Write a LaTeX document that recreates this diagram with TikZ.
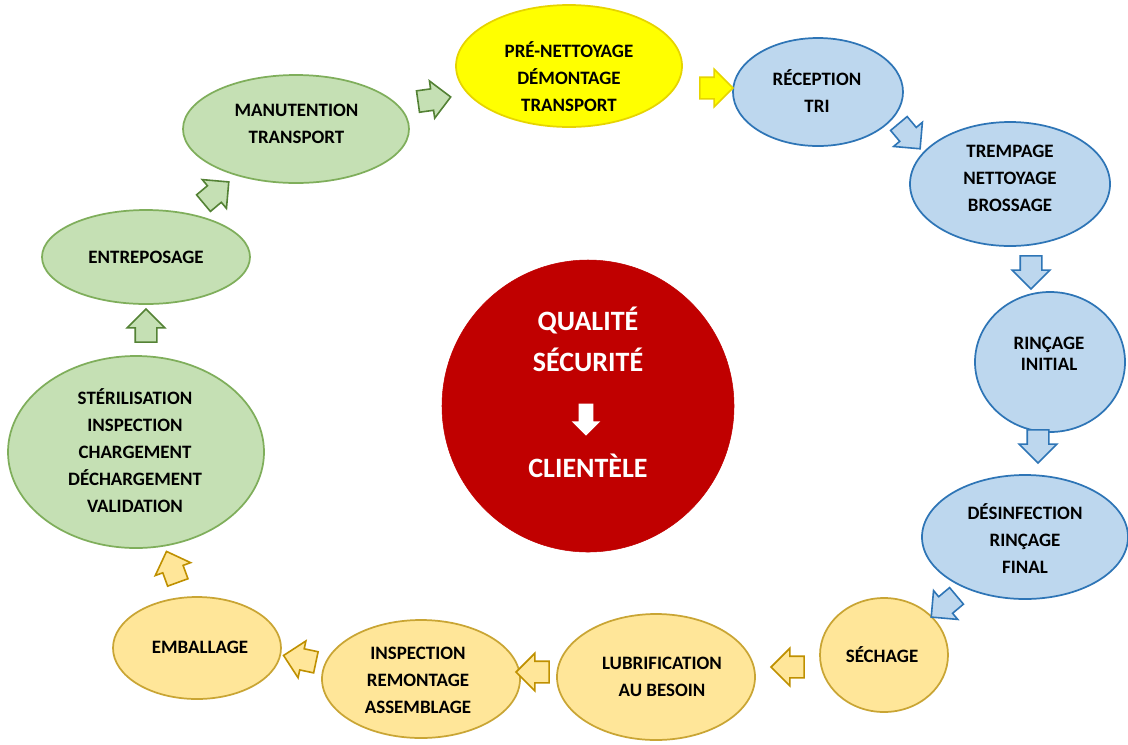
\documentclass[tikz,border=0pt]{standalone}
\usepackage{fontspec}
\setmainfont{Carlito}
\usetikzlibrary{shapes.geometric,shapes.arrows}
\definecolor{gfill}{HTML}{C5E0B4}
\definecolor{gline}{HTML}{7FAE5B}
\definecolor{garrow}{HTML}{548235}
\definecolor{bfill}{HTML}{BDD7EE}
\definecolor{bline}{HTML}{2E75B6}
\definecolor{yfill}{HTML}{FFFF00}
\definecolor{yline}{HTML}{E6D400}
\definecolor{ofill}{HTML}{FFE699}
\definecolor{oline}{HTML}{C9A534}
\definecolor{oarrow}{HTML}{BF9000}
\definecolor{qred}{HTML}{C00000}
\tikzset{
  stage/.style={ellipse, line width=1.3pt, inner sep=0pt},
  gstage/.style={stage, fill=gfill, draw=gline},
  bstage/.style={stage, fill=bfill, draw=bline},
  ystage/.style={stage, fill=yfill, draw=yline},
  ostage/.style={stage, fill=ofill, draw=oline},
  lbl/.style={align=center, inner sep=0pt, text=black,
    font=\bfseries\fontsize{14.2}{20.25}\selectfont},
  flow/.style={single arrow, minimum height=24.75pt,
    single arrow head extend=6pt, inner sep=0pt, line width=1.2pt},
  garr/.style={flow, fill=gfill, draw=garrow},
  barr/.style={flow, fill=bfill, draw=bline},
  yarr/.style={flow, fill=yfill, draw=yline},
  oarr/.style={flow, fill=ofill, draw=oarrow},
  qtext/.style={font=\bfseries\fontsize{21}{25}\selectfont, text=white},
}
\newcommand\shaft{\rule{0pt}{15pt}}
\begin{document}
\begin{tikzpicture}[x=0.75pt,y=-0.75pt]
\useasboundingbox (0,0) rectangle (1128,744);
\fill[white] (0,0) rectangle (1128,744);
% stages
\node[ystage, minimum width=169.5pt, minimum height=91.5pt] (pre) at (569,66) {};
\node[bstage, minimum width=127.5pt, minimum height=81pt] (rec) at (818,92) {};
\node[bstage, minimum width=150pt, minimum height=93pt] (tre) at (1010,184) {};
\node[bstage, minimum width=112.5pt, minimum height=105pt] (rin) at (1050,362) {};
\node[bstage, minimum width=154.5pt, minimum height=93pt] (des) at (1025,537) {};
\node[ostage, minimum width=96pt, minimum height=85.5pt] (sec) at (884,655) {};
\node[ostage, minimum width=148.5pt, minimum height=94.5pt] (lub) at (656,677) {};
\node[ostage, minimum width=148.5pt, minimum height=88.5pt] (ins) at (421,679) {};
\node[ostage, minimum width=126pt, minimum height=76.5pt] (emb) at (197,648) {};
\node[gstage, minimum width=192pt, minimum height=144pt] (ste) at (136,452) {};
\node[gstage, minimum width=156pt, minimum height=70.5pt] (ent) at (146,257) {};
\node[gstage, minimum width=169.5pt, minimum height=81pt] (man) at (296,129) {};
% stage labels
\node[lbl] (pret) at (569,76.5) {PRÉ-NETTOYAGE\\DÉMONTAGE\\TRANSPORT};
\node[lbl] (rect) at (817,91) {RÉCEPTION\\TRI};
\node[lbl] (tret) at (1010,178.5) {TREMPAGE\\NETTOYAGE\\BROSSAGE};
\node[lbl, font=\bfseries\fontsize{14.2}{16}\selectfont] (rint) at (1049,354) {RINÇAGE\\INITIAL};
\node[lbl] (dest) at (1025,538.5) {DÉSINFECTION\\RINÇAGE\\FINAL};
\node[lbl] (sect) at (882,655) {SÉCHAGE};
\node[lbl] (lubt) at (662,677) {LUBRIFICATION\\AU BESOIN};
\node[lbl] (inst) at (418,680) {INSPECTION\\REMONTAGE\\ASSEMBLAGE};
\node[lbl] (embt) at (200,647) {EMBALLAGE};
\node[lbl] (stet) at (135,451) {STÉRILISATION\\INSPECTION\\CHARGEMENT\\DÉCHARGEMENT\\VALIDATION};
\node[lbl] (entt) at (146,257) {ENTREPOSAGE};
\node[lbl] (mant) at (296.5,123.5) {MANUTENTION\\TRANSPORT};
% centre
\node[circle, fill=qred, draw=qred, minimum size=219pt, inner sep=0pt] (q) at (588,406) {};
\node[qtext] (q1) at (588,320) {QUALITÉ};
\node[qtext] (q2) at (588,360) {SÉCURITÉ};
\node[single arrow, fill=white, rotate=-90, minimum height=24pt, single arrow head extend=5.25pt, inner sep=0pt] (q3) at (586,416) {\rule{0pt}{10.5pt}};
\node[qtext] (q4) at (588,466) {CLIENTÈLE};
% flow arrows
\node[garr, rotate=8] (a1) at (429,100) {\shaft};
\node[yarr, rotate=0] (a2) at (711,88) {\shaft};
\node[barr, rotate=-50] (a3) at (906,132) {\shaft};
\node[barr, rotate=-90] (a4) at (1031,267) {\shaft};
\node[barr, rotate=-90] (a5) at (1038,441) {\shaft};
\node[barr, rotate=-140] (a6) at (948,603) {\shaft};
\node[oarr, rotate=180] (a7) at (793,667) {\shaft};
\node[oarr, rotate=180] (a8) at (538,672) {\shaft};
\node[oarr, rotate=168] (a9) at (305,660) {\shaft};
\node[oarr, rotate=110] (a10) at (174,572) {\shaft};
\node[garr, rotate=90] (a11) at (146,331) {\shaft};
\node[garr, rotate=40] (a12) at (212,196) {\shaft};
\end{tikzpicture}
\end{document}
